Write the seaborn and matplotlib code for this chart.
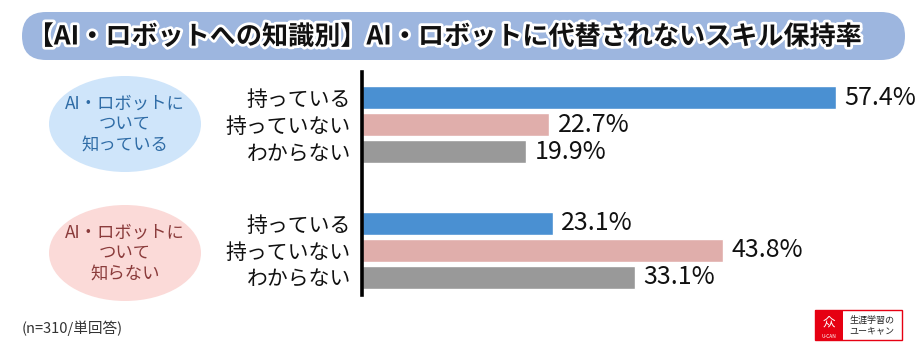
import matplotlib
matplotlib.use('Agg')
import matplotlib.pyplot as plt
import matplotlib.patheffects as pe
from matplotlib.patches import Ellipse, FancyBboxPatch, Rectangle
import pandas as pd
import seaborn as sns

# データ
groups = ['AI・ロボットに\nついて\n知っている', 'AI・ロボットに\nついて\n知らない']
answers = ['持っている', '持っていない', 'わからない']
knows_values = [57.4, 22.7, 19.9]
not_knows_values = [23.1, 43.8, 33.1]
title = '【AI・ロボットへの知識別】AI・ロボットに代替されないスキル保持率'
note = '(n=310/単回答)'

bar_colors = ['#4A90D2', '#E0AEAB', '#999999']
group_step = 4.65

sns.set_theme(style='white')
plt.rcParams['font.family'] = ['Noto Sans CJK JP', 'DejaVu Sans']

rows = []
for g, vals in enumerate([knows_values, not_knows_values]):
    for i, (a, v) in enumerate(zip(answers, vals)):
        rows.append({'pos': g * group_step + i, 'answer': a, 'value': v})
df = pd.DataFrame(rows)

fig = plt.figure(figsize=(9.24, 3.56), dpi=100)

# 背景（タイトル・楕円・注記）
bg = fig.add_axes([0, 0, 1, 1])
bg.set_xlim(0, 924)
bg.set_ylim(356, 0)
bg.axis('off')
bg.add_patch(FancyBboxPatch((22, 12), 883, 48, boxstyle='round,pad=0,rounding_size=24',
                            facecolor='#9DB6DF', edgecolor='none'))
bg.text(445, 37, title, ha='center', va='center', fontsize=18.8, fontweight='bold', color='#111111',
        path_effects=[pe.withStroke(linewidth=4, foreground='white')])

ell_colors = ['#CFE5FA', '#FBDAD8']
ell_text = ['#2F6CA6', '#8A3B3B']
ell_y = [124, 253]
for g in range(2):
    bg.add_patch(Ellipse((125, ell_y[g]), 152, 96, facecolor=ell_colors[g], edgecolor='none'))
    bg.text(125, ell_y[g], groups[g], ha='center', va='center', fontsize=12.5,
            color=ell_text[g], linespacing=1.15)

bg.text(22, 328, note, ha='left', va='center', fontsize=10.5, color='#333333')

# ロゴ
bg.add_patch(Rectangle((815, 310), 87, 30, facecolor='white', edgecolor='#E60012', linewidth=1))
bg.add_patch(Rectangle((815, 310), 28, 30, facecolor='#E60012', edgecolor='none'))
bg.text(829, 322, '众', ha='center', va='center', fontsize=9, color='white')
bg.text(829, 336, 'U-CAN', ha='center', va='center', fontsize=3.5, color='white')
bg.text(872, 325, '生涯学習の\nユーキャン', ha='center', va='center', fontsize=6.5,
        color='#222222', linespacing=1.2)

# 棒グラフ
ax = fig.add_axes([362 / 924, (356 - 295) / 356, (924 - 362) / 924, 223 / 356])
ax.patch.set_alpha(0)
sns.barplot(data=df, x='value', y='pos', hue='answer', hue_order=answers, palette=bar_colors,
            orient='h', native_scale=True, dodge=False, width=0.85, saturation=1,
            legend=False, ax=ax)
for c in ax.containers:
    ax.bar_label(c, fmt='{:.1f}%', padding=6, fontsize=18, color='#111111')

ax.set_xlim(0, (924 - 362) / 8.25)
ax.set_ylim(2 + group_step + 0.648, -0.944)
ax.set_yticks(df['pos'])
ax.set_yticklabels(df['answer'], fontsize=15, color='#111111')
ax.tick_params(axis='y', length=0, pad=8)
ax.set_xticks([])
ax.set_xlabel('')
ax.set_ylabel('')
for s in ['top', 'right', 'bottom']:
    ax.spines[s].set_visible(False)
ax.spines['left'].set_color('black')
ax.spines['left'].set_linewidth(2.6)

fig.savefig('out.png', dpi=100)
